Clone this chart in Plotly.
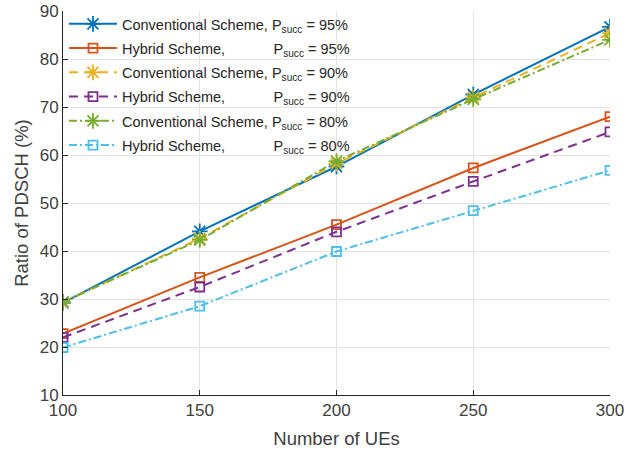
import plotly.graph_objects as go

ues = [100, 150, 200, 250, 300]
conv95 = [29.2, 44.1, 57.6, 72.6, 86.7]
hyb95 = [22.8, 34.5, 45.5, 57.3, 68.0]
conv90 = [29.3, 42.6, 58.2, 72.0, 85.4]
hyb90 = [22.0, 32.5, 44.0, 54.5, 64.8]
conv80 = [29.4, 42.3, 58.7, 71.6, 84.0]
hyb80 = [19.9, 28.5, 39.9, 48.4, 56.8]

pad = "\u00a0" * 12
names = [
    "Conventional Scheme, P<sub>succ</sub> = 95%",
    "Hybrid Scheme," + pad + "P<sub>succ</sub> = 95%",
    "Conventional Scheme, P<sub>succ</sub> = 90%",
    "Hybrid Scheme," + pad + "P<sub>succ</sub> = 90%",
    "Conventional Scheme, P<sub>succ</sub> = 80%",
    "Hybrid Scheme," + pad + "P<sub>succ</sub> = 80%",
]
series = [conv95, hyb95, conv90, hyb90, conv80, hyb80]
colors = ["#0072BD", "#D95319", "#EDB120", "#7E2F8E", "#77AC30", "#4DBEEE"]
dashes = ["solid", "solid", "9px,6px", "9px,6px", "8px,3px,2px,3px", "8px,3px,2px,3px"]
symbols = ["asterisk-open", "square-open"] * 3
sizes = [13, 9] * 3

fig = go.Figure()
for i, (name, ys, c, d, s, sz) in enumerate(zip(names, series, colors, dashes, symbols, sizes)):
    fig.add_trace(go.Scatter(
        x=ues, y=ys, mode="lines+markers", name=name, legendgroup=f"g{i}",
        line=dict(color=c, width=2, dash=d),
        marker=dict(symbol=s, size=sz, color=c, line=dict(color=c, width=1.8)),
    ))

font = "Arial, Liberation Sans, Helvetica, sans-serif"
fig.update_layout(
    width=634, height=451,
    margin=dict(l=63, r=24, t=11, b=56, autoexpand=False),
    paper_bgcolor="white", plot_bgcolor="white",
    font=dict(family=font, color="#404040", size=17),
    showlegend=True, hovermode=False,
    legend=dict(
        x=0.0018, y=1.008, xanchor="left", yanchor="top",
        bgcolor="rgba(0,0,0,0)", borderwidth=0,
        font=dict(size=14.5, color="#262626"),
        tracegroupgap=2.4, itemwidth=48,
    ),
    xaxis=dict(
        range=[100, 300], tickvals=[100, 150, 200, 250, 300], automargin=False,
        title=dict(text="Number of UEs", font=dict(size=18.5, color="#404040"), standoff=12),
        showgrid=True, gridcolor="#e3e3e3", gridwidth=1,
        showline=True, linecolor="#262626", linewidth=1,
        ticks="inside", ticklen=5, tickcolor="#262626",
        zeroline=False, tickfont=dict(size=17),
    ),
    yaxis=dict(
        range=[10, 90], tickvals=[10, 20, 30, 40, 50, 60, 70, 80, 90], automargin=False,
        title=dict(text="Ratio of PDSCH (%)", font=dict(size=18.5, color="#404040"), standoff=6),
        showgrid=True, gridcolor="#e3e3e3", gridwidth=1,
        showline=True, linecolor="#262626", linewidth=1,
        ticks="inside", ticklen=5, tickcolor="#262626",
        zeroline=False, tickfont=dict(size=17),
    ),
)
fig.write_html("out.html", config={"displayModeBar": False},
               post_script="document.body.style.margin='0';")
